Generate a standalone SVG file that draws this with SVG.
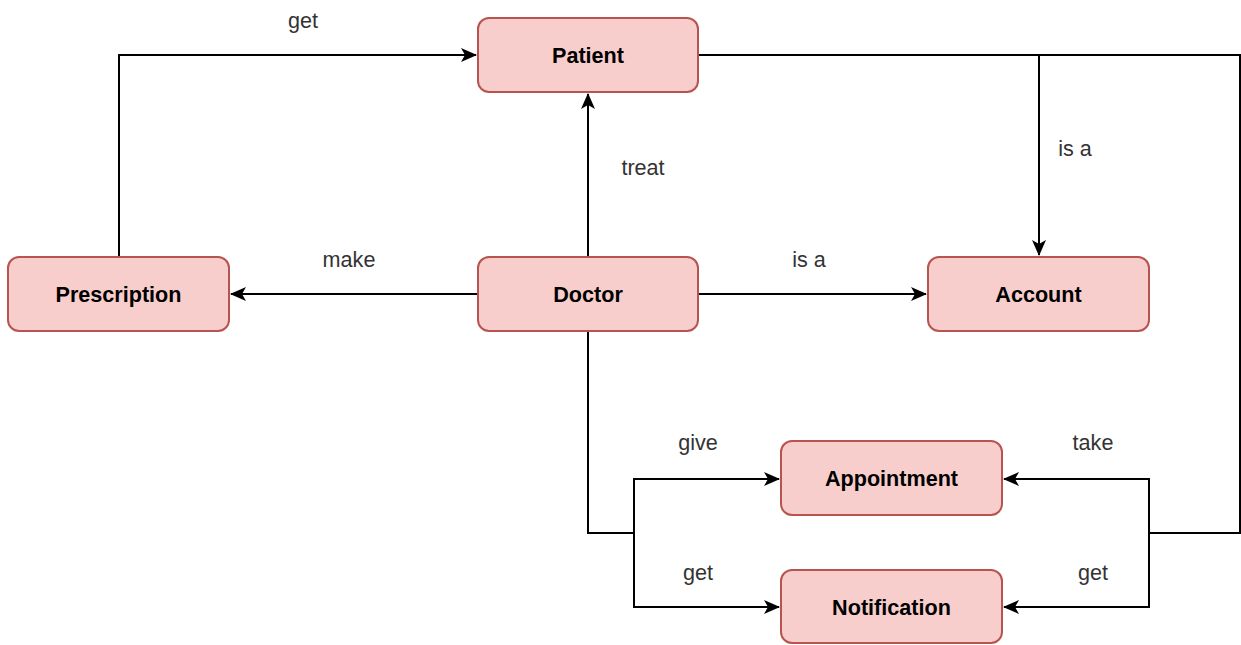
<svg xmlns="http://www.w3.org/2000/svg" width="1241" height="645" viewBox="0 0 1241 645">
  <style>
    .node rect { fill: #f8cecc; stroke: #b85450; stroke-width: 2; }
    .node text { font-family: "Liberation Sans", Arial, sans-serif; font-size: 21.6px; font-weight: bold; fill: #000; text-anchor: middle; dominant-baseline: central; }
    .edges path { fill: none; stroke: #000; stroke-width: 2; }
    .lbl { font-family: "Liberation Sans", Arial, sans-serif; font-size: 21.6px; fill: #333; text-anchor: middle; dominant-baseline: central; }
  </style>
  <defs>
    <marker id="arrow" viewBox="0 0 16 14" refX="15" refY="7" markerWidth="16" markerHeight="14" markerUnits="userSpaceOnUse" orient="auto">
      <path d="M0,0 L16,7 L0,14 L4,7 Z" fill="#000"/>
    </marker>
  </defs>
  <rect width="1241" height="645" fill="#fff"/>

  <g class="edges">
    <path d="M119,257 V55 H476" marker-end="url(#arrow)"/>
    <path d="M588,257 V94" marker-end="url(#arrow)"/>
    <path d="M478,294 H231" marker-end="url(#arrow)"/>
    <path d="M698,294 H926" marker-end="url(#arrow)"/>
    <path d="M698,55 H1039 V255" marker-end="url(#arrow)"/>
    <path d="M1039,55 H1240 V533 H1149"/>
    <path d="M1149,533 V479 H1004" marker-end="url(#arrow)"/>
    <path d="M1149,533 V607 H1004" marker-end="url(#arrow)"/>
    <path d="M588,331 V533 H634"/>
    <path d="M634,533 V479 H779" marker-end="url(#arrow)"/>
    <path d="M634,533 V607 H779" marker-end="url(#arrow)"/>
  </g>

  <g class="labels">
    <text class="lbl" x="303" y="20">get</text>
    <text class="lbl" x="643" y="167">treat</text>
    <text class="lbl" x="349" y="259">make</text>
    <text class="lbl" x="809" y="259">is a</text>
    <text class="lbl" x="1075" y="148">is a</text>
    <text class="lbl" x="698" y="442">give</text>
    <text class="lbl" x="698" y="572">get</text>
    <text class="lbl" x="1093" y="442">take</text>
    <text class="lbl" x="1093" y="572">get</text>
  </g>

  <g id="patient" class="node"><rect x="478" y="18" width="220" height="74" rx="11"/><text x="588" y="55">Patient</text></g>
  <g id="prescription" class="node"><rect x="8" y="257" width="221" height="74" rx="11"/><text x="118.5" y="294">Prescription</text></g>
  <g id="doctor" class="node"><rect x="478" y="257" width="220" height="74" rx="11"/><text x="588" y="294">Doctor</text></g>
  <g id="account" class="node"><rect x="928" y="257" width="221" height="74" rx="11"/><text x="1038.5" y="294">Account</text></g>
  <g id="appointment" class="node"><rect x="781" y="441" width="221" height="74" rx="11"/><text x="891.5" y="478">Appointment</text></g>
  <g id="notification" class="node"><rect x="781" y="570" width="221" height="73" rx="11"/><text x="891.5" y="607">Notification</text></g>
</svg>
